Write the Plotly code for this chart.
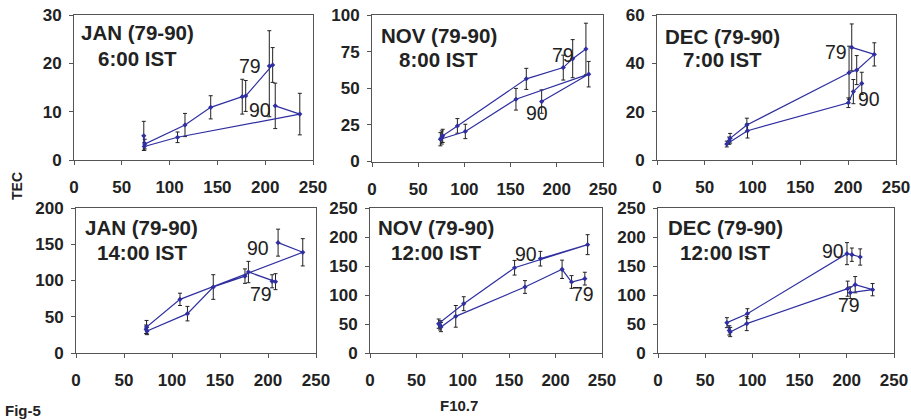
import plotly.graph_objects as go

# ---------------- data (years 1979..1990) ----------------
years = ["79", "80", "81", "82", "83", "84", "85", "86", "87", "88", "89", "90"]

f107_jan = [204.3, 207.8, 179.6, 176.0, 143.0, 116.1, 74.0, 73.0, 73.5, 108.3, 236.2, 210.5]
f107_nov = [231.5, 217.2, 207.0, 167.0, 92.4, 76.5, 75.5, 74.0, 101.0, 155.8, 234.5, 183.6]
f107_dec = [203.7, 227.3, 208.9, 200.9, 94.0, 76.5, 75.5, 73.0, 94.7, 200.2, 205.4, 214.2]

tec_jan06 = [19.45, 19.66, 13.25, 13.1, 10.9, 7.24, 3.3, 5.0, 2.8, 4.7, 9.5, 11.2]
err_jan06_p = [7.3, 3.6, 3.2, 3.6, 2.4, 2.4, 1.0, 3.0, 0.8, 1.1, 4.3, 4.7]
err_jan06_m = [10.5, 3.6, 3.2, 3.6, 2.4, 2.4, 1.0, 3.0, 0.8, 1.1, 4.3, 4.7]

tec_nov08 = [76.8, 70.2, 64.1, 56.4, 24.3, 17.5, 16.4, 15.2, 20.5, 42.5, 59.6, 40.9]
err_nov08 = [17.6, 13.0, 8.5, 7.2, 5.0, 4.5, 4.5, 4.5, 4.9, 7.4, 8.7, 8.0]

tec_dec07 = [46.6, 43.7, 37.2, 36.1, 14.5, 9.0, 8.0, 6.6, 12.1, 23.7, 28.3, 31.7]
err_dec07 = [9.7, 4.8, 6.0, 11.0, 2.8, 2.0, 1.5, 1.2, 3.0, 2.0, 5.0, 4.6]

tec_jan14 = [98.9, 98.4, 111.7, 106.0, 91.0, 54.3, 30.3, 32.6, 35.9, 74.0, 138.9, 152.2]
err_jan14 = [9.0, 11.0, 14.7, 10.0, 17.0, 10.0, 5.0, 6.0, 9.0, 8.5, 18.8, 18.6]

tec_nov12 = [128.2, 122.4, 144.3, 113.8, 63.2, 44.8, 47.7, 50.6, 85.0, 147.0, 186.8, 162.6]
err_nov12 = [11.0, 11.0, 15.8, 11.0, 18.7, 8.0, 8.0, 8.0, 12.0, 12.6, 17.2, 12.6]

tec_dec12 = [104.0, 109.2, 117.8, 110.9, 50.6, 36.2, 39.0, 52.3, 67.8, 171.3, 169.5, 165.5]
err_dec12 = [10.0, 10.6, 14.0, 13.0, 12.0, 8.0, 8.0, 8.6, 8.6, 19.0, 11.5, 14.0]

panel_titles = [("JAN (79-90)", "6:00 IST"), ("NOV (79-90)", "8:00 IST"), ("DEC (79-90)", "7:00 IST"),
                ("JAN (79-90)", "14:00 IST"), ("NOV (79-90)", "12:00 IST"), ("DEC (79-90)", "12:00 IST")]
y_max = [30, 100, 60, 200, 250, 250]
y_step = [10, 25, 20, 50, 50, 50]
x_ticks = [0, 50, 100, 150, 200, 250]

# label positions (data coords) for the "79" and "90" year tags
tag79 = [(184, 19.4), (206.5, 72.7), (187.3, 44.8), (192.8, 81.8), (229, 102.3), (202, 83.3)]
tag90 = [(194.6, 10.3), (179, 33.0), (222, 25.1), (190, 145.3), (168, 171.3), (185, 175.3)]

series = [
    (f107_jan, tec_jan06, err_jan06_p, err_jan06_m),
    (f107_nov, tec_nov08, err_nov08, err_nov08),
    (f107_dec, tec_dec07, err_dec07, err_dec07),
    (f107_jan, tec_jan14, err_jan14, err_jan14),
    (f107_nov, tec_nov12, err_nov12, err_nov12),
    (f107_dec, tec_dec12, err_dec12, err_dec12),
]

# ---------------- layout geometry (pixels) ----------------
W, H = 911, 420
boxes_px = [(74, 313, 15, 160), (372, 603, 15, 161.5), (657, 896, 15, 160),
            (76, 316, 208, 353), (370, 602, 208, 353), (658, 894, 208, 353)]
title_pos = [(0.264, 33, 59), (0.289, 35, 60), (0.273, 36, 60),
             (0.273, 228, 252), (0.284, 227, 252), (0.286, 227, 252)]

BLUE = "#2f2fa0"
AXC = "#555555"
FONT = "Liberation Sans, Arial, sans-serif"

fig = go.Figure()
layout = dict(width=W, height=H, margin=dict(l=0, r=0, t=0, b=0, autoexpand=False),
              template="none",
              paper_bgcolor="white", plot_bgcolor="white", showlegend=False)
annotations = []

for i, (xs, ys, ep, em) in enumerate(series):
    n = i + 1
    xa = "x" if n == 1 else f"x{n}"
    ya = "y" if n == 1 else f"y{n}"
    fig.add_trace(go.Scatter(
        x=xs, y=ys, mode="lines+markers", xaxis=xa, yaxis=ya,
        line=dict(color=BLUE, width=1.2),
        marker=dict(symbol="diamond", size=4, color=BLUE),
        error_y=dict(type="data", symmetric=False, array=ep, arrayminus=em,
                     color="#222222", thickness=1, width=2),
        hoverinfo="skip"))
    x0, x1, y0, y1 = boxes_px[i]
    axis_common = dict(showline=True, linecolor=AXC, linewidth=1, mirror=True,
                       ticks="outside", ticklen=4, tickcolor=AXC, showgrid=False,
                       zeroline=False, automargin=False,
                       tickfont=dict(family=FONT, size=17, color="#222222", weight="bold"))
    layout["xaxis" if n == 1 else f"xaxis{n}"] = dict(
        domain=[x0 / W, x1 / W], range=[0, 250], tickvals=x_ticks,
        anchor=ya, ticklabelstandoff=8, **axis_common)
    layout["yaxis" if n == 1 else f"yaxis{n}"] = dict(
        domain=[1 - y1 / H, 1 - y0 / H], range=[0, y_max[i]],
        tickvals=list(range(0, y_max[i] + 1, y_step[i])),
        anchor=xa, ticklabelstandoff=4, **axis_common)
    dom = "x domain" if n == 1 else f"x{n} domain"
    tx, l1, l2 = title_pos[i]
    for txt, py in ((panel_titles[i][0], l1), (panel_titles[i][1], l2)):
        annotations.append(dict(
            text=f"<b>{txt}</b>", xref=dom, yref="paper", x=tx, y=1 - py / H,
            showarrow=False, xanchor="center", yanchor="middle",
            font=dict(family=FONT, size=20.5, color="#222222")))
    for tag, (tx2, ty2) in (("79", tag79[i]), ("90", tag90[i])):
        annotations.append(dict(
            text=tag, xref=xa, yref=ya, x=tx2, y=ty2, showarrow=False,
            xanchor="center", yanchor="middle",
            font=dict(family=FONT, size=19.5, color="#222222")))

annotations.append(dict(text="<b>TEC</b>", xref="paper", yref="paper", x=17 / W, y=1 - 186 / H,
                        textangle=-90, showarrow=False, xanchor="center", yanchor="middle",
                        font=dict(family=FONT, size=14, color="#222222")))
annotations.append(dict(text="<b>F10.7</b>", xref="paper", yref="paper", x=458.5 / W, y=1 - 405 / H,
                        showarrow=False, xanchor="center", yanchor="middle",
                        font=dict(family=FONT, size=15, color="#222222")))
annotations.append(dict(text="<b>Fig-5</b>", xref="paper", yref="paper", x=3 / W, y=1 - 410 / H,
                        showarrow=False, xanchor="left", yanchor="middle",
                        font=dict(family=FONT, size=15, color="#222222")))
layout["annotations"] = annotations
fig.update_layout(**layout)
fig.write_html("out.html", config={"displayModeBar": False, "staticPlot": True},
               post_script="document.body.style.margin='0px';document.body.style.overflow='hidden';")
